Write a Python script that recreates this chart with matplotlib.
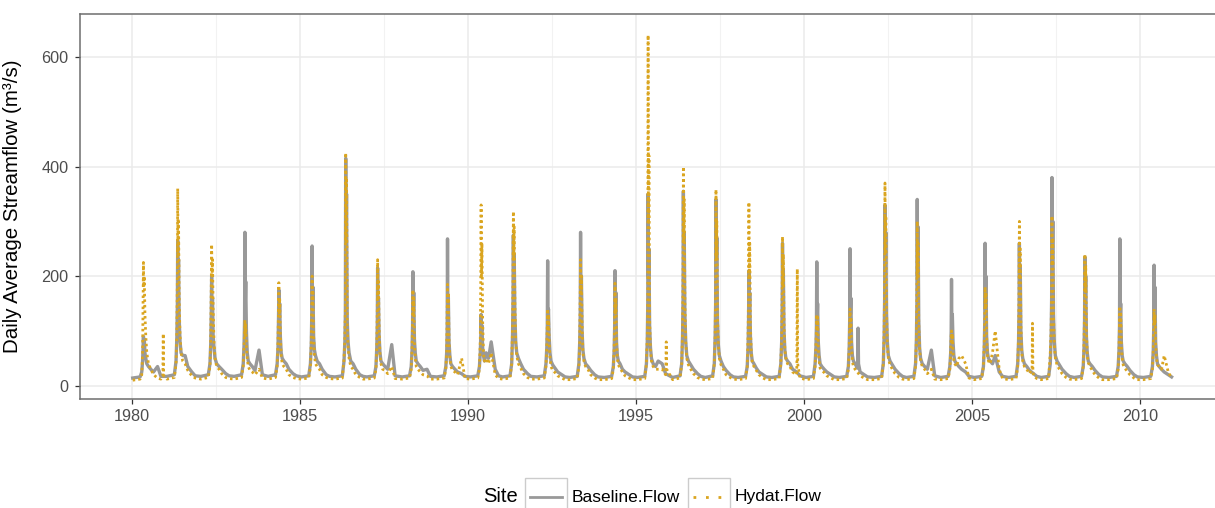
import numpy as np
import matplotlib
matplotlib.use("Agg")
import matplotlib.pyplot as plt
from matplotlib.lines import Line2D
from matplotlib.patches import Rectangle

plt.rcParams['font.family'] = ['Liberation Sans', 'DejaVu Sans']

years = list(range(1980, 2011))

# fraction of the year where the spring freshet peaks
peak_frac = [0.34, 0.36, 0.37, 0.36, 0.37, 0.36, 0.36, 0.31, 0.36, 0.39,
             0.39, 0.35, 0.37, 0.35, 0.375, 0.36, 0.41, 0.38, 0.36, 0.36,
             0.38, 0.37, 0.41, 0.37, 0.39, 0.39, 0.41, 0.38, 0.36, 0.40,
             0.42]

# sample times relative to the peak (years)
slot_offset = [-0.32, -0.10, -0.05, -0.025, -0.01, 0.0, 0.01, 0.025,
               0.045, 0.07, 0.10, 0.15, 0.22, 0.30, 0.42, 0.52]

# m3/s at each slot, one row per year
baseline_flow = [
    [14, 16, 25, 45, 70, 90, 70, 85, 60, 50, 40, 35, 30, 25, 35, 17],
    [17, 20, 45, 90, 150, 265, 160, 230, 120, 80, 60, 55, 55, 35, 25, 18],
    [17, 20, 40, 80, 140, 200, 120, 160, 90, 70, 50, 40, 35, 30, 22, 18],
    [17, 20, 40, 75, 120, 280, 150, 190, 100, 60, 45, 40, 35, 28, 65, 20],
    [17, 20, 40, 70, 120, 175, 110, 150, 90, 60, 50, 45, 40, 30, 22, 18],
    [16, 18, 40, 75, 130, 255, 140, 180, 90, 65, 55, 45, 40, 30, 20, 17],
    [16, 18, 45, 80, 130, 415, 250, 350, 120, 80, 60, 45, 40, 30, 20, 17],
    [16, 18, 35, 70, 110, 215, 120, 160, 90, 60, 45, 40, 35, 30, 75, 18],
    [16, 18, 35, 65, 110, 208, 120, 170, 85, 60, 45, 40, 35, 28, 30, 17],
    [16, 18, 35, 60, 100, 268, 130, 160, 80, 55, 40, 35, 30, 25, 22, 17],
    [16, 18, 35, 60, 90, 130, 100, 110, 70, 55, 45, 60, 50, 80, 30, 18],
    [16, 18, 40, 90, 160, 275, 180, 240, 130, 80, 60, 50, 40, 30, 22, 17],
    [16, 18, 40, 70, 110, 228, 120, 140, 90, 60, 45, 38, 32, 25, 20, 16],
    [15, 17, 40, 80, 130, 280, 150, 200, 100, 65, 50, 40, 35, 28, 20, 16],
    [15, 17, 35, 65, 110, 210, 120, 170, 80, 55, 45, 40, 30, 25, 20, 16],
    [15, 17, 40, 80, 150, 350, 200, 250, 110, 70, 50, 40, 35, 45, 40, 22],
    [15, 18, 40, 90, 160, 355, 200, 280, 130, 80, 55, 45, 38, 30, 22, 17],
    [15, 18, 40, 90, 150, 340, 200, 270, 120, 75, 55, 45, 35, 28, 20, 16],
    [15, 17, 35, 70, 120, 210, 130, 170, 90, 60, 45, 40, 32, 25, 20, 16],
    [15, 17, 40, 80, 140, 260, 150, 210, 100, 65, 50, 45, 40, 30, 25, 18],
    [15, 17, 40, 70, 110, 226, 120, 150, 80, 55, 40, 35, 30, 25, 20, 16],
    [15, 17, 35, 70, 120, 250, 130, 160, 80, 55, 45, 40, 32, 25, 20, 16],
    [15, 17, 40, 90, 160, 330, 200, 280, 130, 80, 55, 45, 38, 30, 22, 17],
    [15, 17, 40, 85, 150, 340, 200, 290, 120, 70, 50, 40, 35, 30, 65, 18],
    [15, 17, 35, 60, 100, 194, 110, 130, 80, 55, 45, 40, 35, 30, 25, 17],
    [15, 17, 35, 70, 120, 260, 140, 200, 90, 60, 50, 45, 40, 55, 25, 17],
    [15, 17, 40, 80, 140, 260, 150, 220, 100, 65, 50, 40, 35, 28, 22, 17],
    [15, 17, 40, 90, 160, 380, 220, 300, 130, 80, 55, 45, 38, 30, 22, 17],
    [15, 17, 35, 70, 120, 235, 140, 200, 90, 60, 45, 40, 35, 28, 20, 16],
    [15, 17, 35, 65, 110, 268, 120, 150, 80, 55, 45, 40, 35, 28, 20, 16],
    [15, 17, 35, 65, 110, 220, 120, 180, 80, 55, 40, 35, 30, 25, 20, 16],
]

hydat_flow = [
    [10, 12, 20, 60, 150, 225, 180, 200, 130, 90, 60, 40, 30, 20, 14, 12],
    [12, 15, 40, 100, 200, 360, 240, 300, 150, 90, 60, 45, 40, 28, 18, 14],
    [12, 15, 35, 90, 180, 258, 200, 230, 140, 80, 50, 35, 30, 22, 15, 13],
    [12, 15, 35, 70, 100, 120, 90, 110, 70, 50, 35, 28, 25, 20, 30, 14],
    [12, 15, 35, 80, 140, 188, 130, 160, 90, 55, 40, 35, 30, 20, 15, 13],
    [12, 14, 35, 80, 150, 200, 150, 170, 90, 55, 40, 35, 30, 20, 15, 13],
    [12, 14, 50, 90, 140, 425, 260, 380, 110, 70, 50, 35, 30, 20, 15, 12],
    [12, 14, 30, 70, 140, 230, 160, 190, 100, 55, 40, 30, 28, 22, 35, 13],
    [12, 14, 30, 70, 120, 175, 130, 160, 80, 50, 35, 30, 25, 20, 18, 12],
    [12, 14, 30, 60, 130, 185, 140, 170, 80, 50, 35, 28, 25, 20, 50, 13],
    [12, 14, 30, 80, 200, 330, 200, 260, 120, 60, 45, 50, 40, 60, 20, 13],
    [12, 14, 40, 110, 200, 318, 230, 290, 150, 80, 55, 40, 32, 22, 15, 12],
    [12, 14, 35, 70, 110, 140, 100, 130, 80, 50, 35, 28, 24, 18, 14, 11],
    [11, 13, 35, 80, 160, 230, 170, 200, 110, 60, 45, 35, 30, 20, 14, 11],
    [11, 13, 30, 70, 130, 187, 130, 160, 80, 50, 38, 32, 25, 18, 14, 11],
    [11, 13, 40, 90, 160, 640, 300, 420, 120, 65, 45, 35, 30, 30, 30, 20],
    [11, 14, 40, 100, 200, 400, 260, 340, 150, 80, 50, 38, 30, 22, 15, 12],
    [11, 13, 40, 90, 180, 358, 230, 300, 130, 75, 50, 38, 30, 20, 15, 12],
    [11, 13, 35, 90, 180, 335, 200, 260, 110, 60, 42, 35, 28, 20, 14, 11],
    [11, 13, 40, 90, 170, 272, 180, 240, 110, 65, 50, 40, 35, 25, 20, 14],
    [11, 13, 35, 70, 110, 130, 100, 125, 70, 45, 32, 28, 24, 18, 14, 11],
    [11, 13, 30, 70, 110, 140, 100, 125, 70, 45, 35, 30, 25, 18, 14, 11],
    [11, 13, 40, 100, 200, 370, 240, 310, 140, 75, 50, 38, 30, 22, 15, 12],
    [11, 13, 35, 85, 170, 300, 200, 260, 110, 65, 45, 35, 30, 22, 30, 12],
    [11, 13, 30, 60, 90, 100, 80, 95, 60, 45, 40, 35, 50, 55, 40, 14],
    [11, 13, 35, 80, 130, 180, 140, 170, 90, 55, 45, 40, 60, 100, 30, 13],
    [11, 13, 35, 90, 170, 300, 200, 250, 110, 60, 45, 35, 30, 22, 18, 13],
    [11, 13, 60, 100, 180, 310, 220, 270, 130, 75, 50, 38, 30, 22, 15, 12],
    [11, 13, 35, 80, 150, 240, 170, 220, 100, 55, 42, 35, 28, 20, 14, 11],
    [11, 13, 30, 65, 110, 145, 110, 135, 75, 50, 38, 32, 26, 20, 14, 11],
    [11, 13, 30, 65, 110, 140, 110, 130, 75, 50, 38, 35, 30, 55, 25, 14],
]

# short events outside the freshet (time, peak, flow either side)
baseline_event_time = [2001.61]
baseline_event_peak = [105]
baseline_event_base = [40]

hydat_event_time = [1980.93, 1995.90, 1999.80, 2006.80]
hydat_event_peak = [95, 80, 213, 114]
hydat_event_base = [18, 30, 40, 30]


def build_series(rows, ev_time, ev_peak, ev_base):
    t = [yr + pf + off for yr, pf in zip(years, peak_frac) for off in slot_offset]
    q = [v for row in rows for v in row]
    for te, pk, bs in zip(ev_time, ev_peak, ev_base):
        t += [te - 0.012, te, te + 0.012]
        q += [bs, pk, bs]
    order = np.argsort(t)
    return np.array(t)[order], np.array(q)[order]


base_t, base_q = build_series(baseline_flow, baseline_event_time,
                              baseline_event_peak, baseline_event_base)
hyd_t, hyd_q = build_series(hydat_flow, hydat_event_time,
                            hydat_event_peak, hydat_event_base)

grey = '#999999'
gold = '#DAA520'

# ---- figure ------------------------------------------------------------
W, H = 1215, 508
fig = plt.figure(figsize=(W / 100, H / 100), dpi=100)
ax = fig.add_axes([80 / W, 1 - 399 / H, (W - 80) / W, (399 - 14.3) / H])

ax.plot(base_t, base_q, color=grey, lw=2.4, zorder=3)
ax.plot(hyd_t, hyd_q, color=gold, lw=2.0, linestyle=(0, (0.9, 1.1)), zorder=4)

ax.set_xlim(1978.452, 2012.232)
ax.set_ylim(-24.3, 678)
ax.set_xticks(range(1980, 2011, 5))
ax.set_xticks(np.arange(1982.5, 2012, 5), minor=True)
ax.set_yticks([0, 200, 400, 600])
ax.grid(True, which='major', color='#EBEBEB', lw=1.1, zorder=0)
ax.grid(True, which='minor', axis='x', color='#F2F2F2', lw=0.8, zorder=0)
ax.set_axisbelow(True)
ax.tick_params(which='major', length=3.6, width=0.9, color='#333333',
               labelcolor='#4D4D4D', labelsize=11.7)
ax.tick_params(axis='x', pad=3.6)
ax.tick_params(axis='y', pad=4.5)
ax.tick_params(which='minor', length=0)
for side in ['left', 'top', 'bottom']:
    ax.spines[side].set_color('#6E6E6E')
    ax.spines[side].set_linewidth(1.1)
ax.spines['right'].set_visible(False)

ax.set_ylabel('Daily Average Streamflow (m³/s)', fontsize=14.8, color='black')
ax.yaxis.label.set_va('center')
ax.yaxis.set_label_coords(-0.0595, 0.5)

# ---- legend along the bottom ------------------------------------------
def fx(px):
    return px / W


def fy(py):
    return 1 - py / H


ly = 497
fig.text(fx(483), fy(ly), 'Site', fontsize=14.5, va='center', ha='left')
for x0, label, style, col in [(525, 'Baseline.Flow', '-', grey),
                              (688, 'Hydat.Flow', (0, (1, 3.5)), gold)]:
    fig.patches.append(Rectangle((fx(x0), fy(516)), fx(42), 38 / H,
                                 transform=fig.transFigure, fill=False,
                                 edgecolor='#CCCCCC', lw=1.0))
    fig.lines.append(Line2D([fx(x0 + 5), fx(x0 + 37)], [fy(ly), fy(ly)],
                            transform=fig.transFigure, color=col, lw=2.0,
                            linestyle=style))
    fig.text(fx(x0 + 47), fy(ly), label, fontsize=12.5, va='center',
             ha='left', color='black')

fig.savefig('out.png', dpi=100)
